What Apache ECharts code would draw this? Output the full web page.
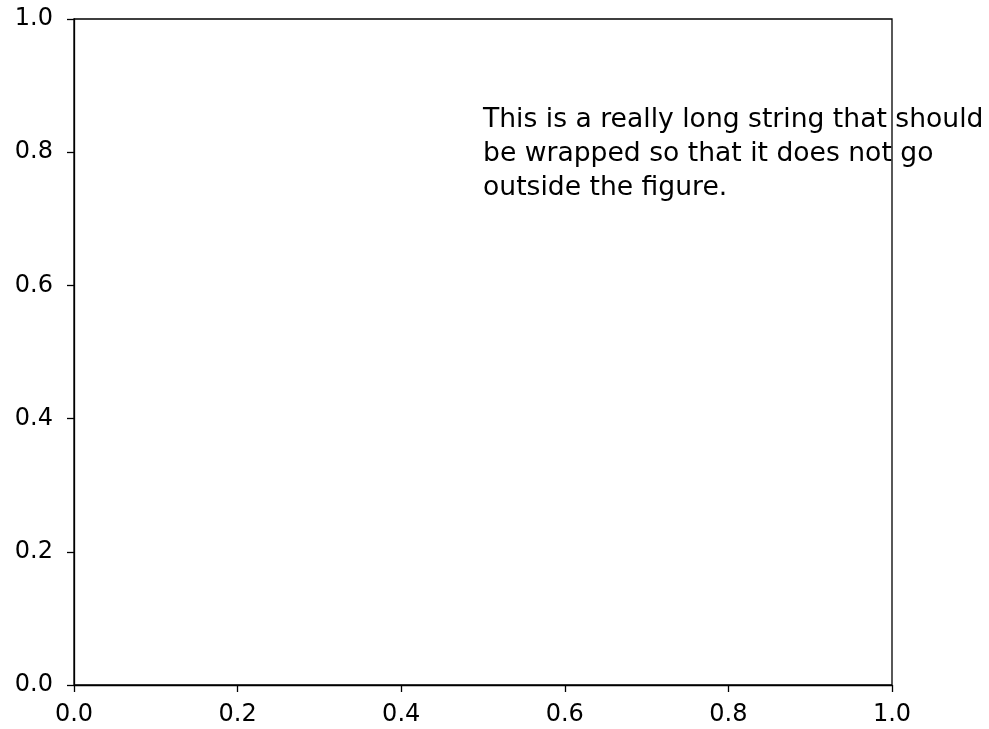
<!DOCTYPE html>
<html><head><meta charset="utf-8">
<script src="https://cdn.jsdelivr.net/npm/echarts@6/dist/echarts.min.js"></script>
<style>html,body{margin:0;padding:0;background:#fff}#c{width:989px;height:729px}</style>
</head><body><div id="c"></div>
<script>
const xRange = [0, 1];
const yRange = [0, 1];
const tickStep = 0.2;
const notePos = [0.5, 0.8];
const noteLines = [
  "This is a really long string that should",
  "be wrapped so that it does not go",
  "outside the figure."
];
const FONT = "DejaVu Sans";
const chart = echarts.init(document.getElementById('c'), null, {renderer: 'canvas'});
function axis(margin) {
  return {
    type: 'value', interval: tickStep,
    axisLine: {show: true, onZero: false, lineStyle: {color: '#000', width: 1.3}},
    axisTick: {show: true, inside: false, length: 7, lineStyle: {color: '#000', width: 1.3}},
    axisLabel: {color: '#000', fontSize: 24, fontFamily: FONT, margin: margin, formatter: v => v.toFixed(1)},
    splitLine: {show: false}
  };
}
chart.setOption({
  animation: false,
  backgroundColor: '#fff',
  grid: {left: 74, top: 19, width: 818, height: 666, show: true, borderColor: '#000', borderWidth: 1.3, containLabel: false},
  xAxis: Object.assign(axis(18), {min: xRange[0], max: xRange[1]}),
  yAxis: Object.assign(axis(21), {min: yRange[0], max: yRange[1]}),
  series: [{
    type: 'scatter', symbolSize: 0, silent: true, clip: false,
    itemStyle: {opacity: 1},
    data: [notePos],
    label: {
      show: true, position: 'right', distance: 0, align: 'left', verticalAlign: 'middle',
      offset: [0, 2],
      formatter: noteLines.join('\n'), opacity: 1,
      color: '#000', fontSize: 26.6, fontFamily: FONT, lineHeight: 34
    }
  }]
});
</script></body></html>
